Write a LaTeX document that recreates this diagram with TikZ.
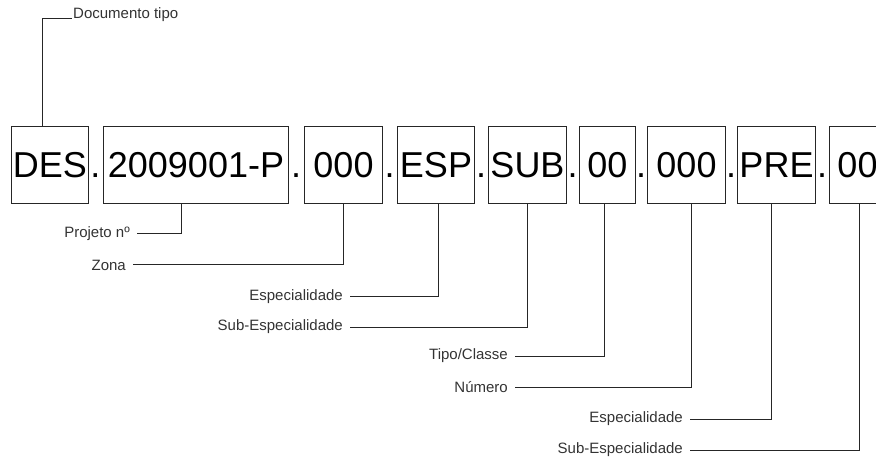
\documentclass[tikz,border=0pt]{standalone}
\usepackage{fontspec}
\setmainfont{Liberation Sans}
\begin{document}
\begin{tikzpicture}[x=1pt,y=-1pt,
  seg/.style={draw=black!85, line width=1pt, minimum height=77pt, inner sep=0pt,
    font=\fontsize{36}{40}\selectfont, text height=25.8pt, text depth=0pt, anchor=north west},
  sep/.style={font=\fontsize{36}{40}\selectfont, inner sep=0pt, anchor=base},
  lbl/.style={font=\fontsize{15}{18}\selectfont, text=black!80, inner xsep=7pt, inner ysep=1pt, anchor=east},
  lead/.style={draw=black!85, line width=1pt}]
\useasboundingbox (0,0) rectangle (876,457);
\clip (0,0) rectangle (876,457);

% code segments
\node[seg, minimum width=77pt] (b1) at (11,126) {DES};
\node[seg, minimum width=185pt] (b2) at (103,126) {2009001-P};
\node[seg, minimum width=78pt] (b3) at (304,126) {000};
\node[seg, minimum width=77pt] (b4) at (397,126) {ESP};
\node[seg, minimum width=78pt] (b5) at (488,126) {SUB};
\node[seg, minimum width=56pt] (b6) at (579,126) {00};
\node[seg, minimum width=78pt] (b7) at (647,126) {000};
\node[seg, minimum width=78pt] (b8) at (737,126) {PRE};
\node[seg, minimum width=56pt] (b9) at (829,126) {00};

% separators
\node[sep] (d1) at (95.5,177.4) {.};
\node[sep] (d2) at (296,177.4) {.};
\node[sep] (d3) at (389.5,177.4) {.};
\node[sep] (d4) at (481,177.4) {.};
\node[sep] (d5) at (572.5,177.4) {.};
\node[sep] (d6) at (641,177.4) {.};
\node[sep] (d7) at (731,177.4) {.};
\node[sep] (d8) at (822,177.4) {.};

% field labels
\node[font=\fontsize{15}{18}\selectfont, text=black!80, inner xsep=1pt, inner ysep=0pt, anchor=base west] (doc) at (72,19) {Documento tipo};
\node[lbl] (l1) at (137,234) {Projeto nº};
\node[lbl] (l2) at (133,265) {Zona};
\node[lbl] (l3) at (350,297) {Especialidade};
\node[lbl] (l4) at (350,327) {Sub-Especialidade};
\node[lbl] (l5) at (515,356) {Tipo/Classe};
\node[lbl] (l6) at (515,387) {Número};
\node[lbl] (l7) at (690,419) {Especialidade};
\node[lbl] (l8) at (690,450) {Sub-Especialidade};

% leaders
\draw[lead] ([xshift=-8pt]b1.north) |- (doc.base west);
\draw[lead] ([xshift=-14.5pt]b2.south) |- (l1.east);
\draw[lead] (b3.south) |- (l2.east);
\draw[lead] ([xshift=2.5pt]b4.south) |- (l3.east);
\draw[lead] (b5.south) |- (l4.east);
\draw[lead] ([xshift=-3pt]b6.south) |- (l5.east);
\draw[lead] ([xshift=5pt]b7.south) |- (l6.east);
\draw[lead] ([xshift=-5pt]b8.south) |- (l7.east);
\draw[lead] ([xshift=2pt]b9.south) |- (l8.east);
\end{tikzpicture}
\end{document}
